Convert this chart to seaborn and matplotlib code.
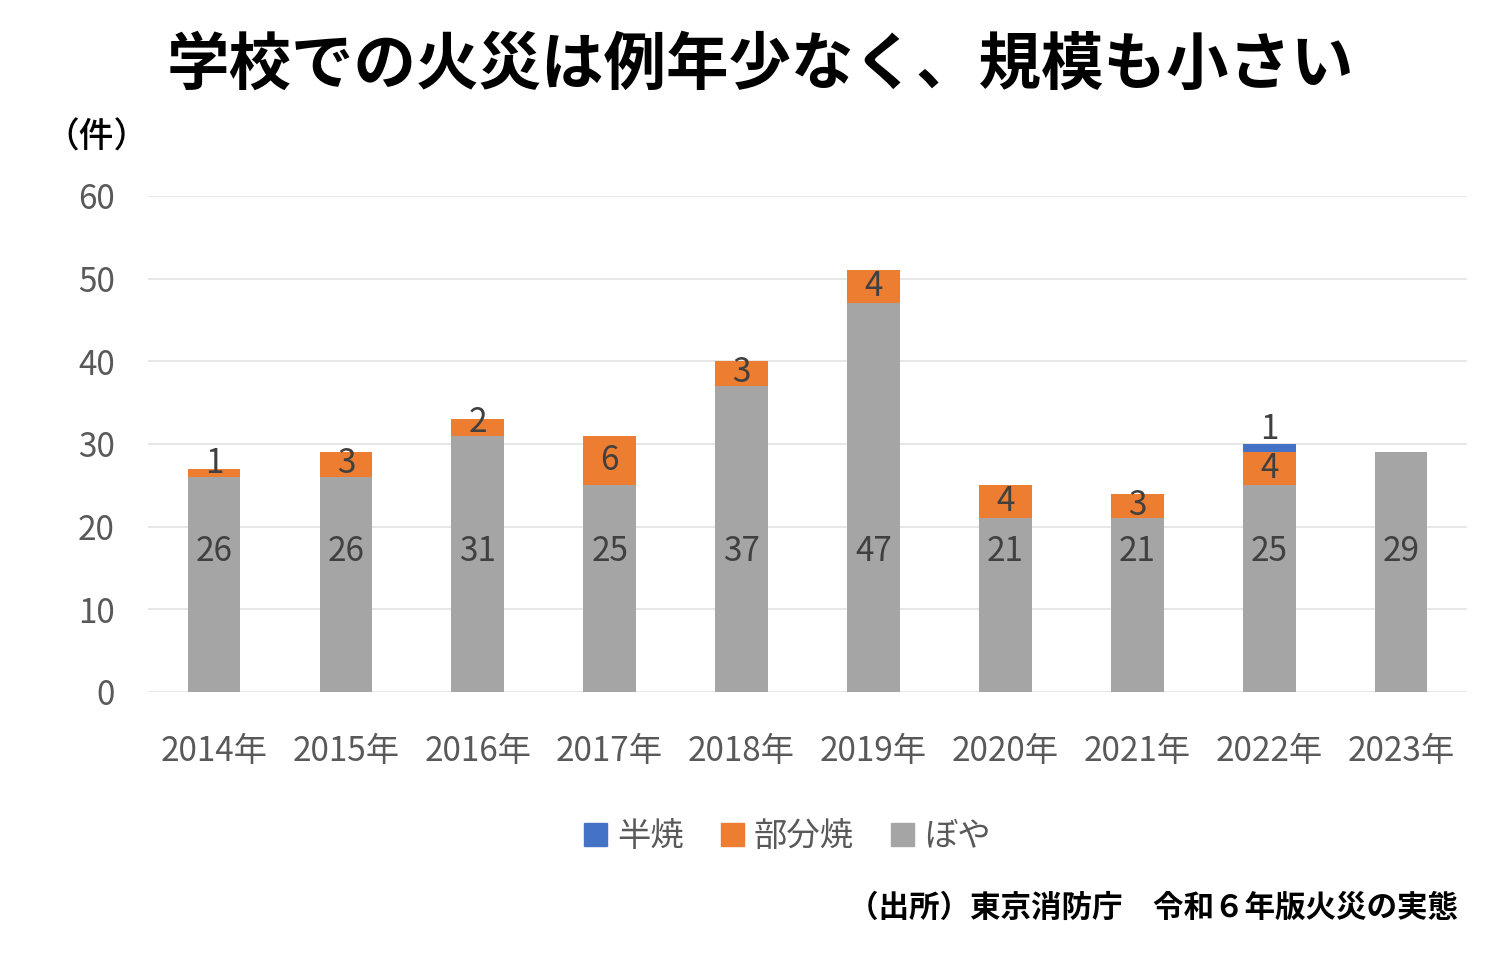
import numpy as np
import pandas as pd
import seaborn as sns
import matplotlib.pyplot as plt
from matplotlib.patches import Patch

years = ["2014年", "2015年", "2016年", "2017年", "2018年",
         "2019年", "2020年", "2021年", "2022年", "2023年"]
boya = [26, 26, 31, 25, 37, 47, 21, 21, 25, 29]      # ぼや
bubun = [1, 3, 2, 6, 3, 4, 4, 3, 4, 0]             # 部分焼
hanshou = [0, 0, 0, 0, 0, 0, 0, 0, 1, 0]           # 半焼

sns.set_style("white")
plt.rcParams['font.family'] = ['Noto Sans CJK JP', 'DejaVu Sans']

df = pd.DataFrame({"year": years, "boya": boya, "bubun": bubun, "hanshou": hanshou})
df["top2"] = df.boya + df.bubun
df["top3"] = df.top2 + df.hanshou

c_blue = "#4472C4"
c_orange = "#ED7D31"
c_gray = "#A5A5A5"

fig = plt.figure(figsize=(15, 9.56), dpi=100)
ax = fig.add_axes([0.0987, 0.2762, 0.8793, 0.5188])

# stacked bars: draw the tallest first, then overlay
for col, c in [("top3", c_blue), ("top2", c_orange), ("boya", c_gray)]:
    sns.barplot(x="year", y=col, data=df, color=c, width=0.4, ax=ax,
                saturation=1, linewidth=0, zorder=3)

ax.set_ylim(0, 60)
ax.set_xlim(-0.5, 9.5)
ax.set_yticks(range(0, 61, 10))
ax.yaxis.grid(True, color="#E3E3E3", linewidth=1.2, zorder=0)
ax.set_axisbelow(True)
for s in ax.spines.values():
    s.set_visible(False)
ax.tick_params(axis="both", length=0, labelsize=24, labelcolor="#595959")
ax.tick_params(axis="x", pad=30)
ax.tick_params(axis="y", pad=24)
ax.set_xlabel("")
ax.set_ylabel("")

lab_color = "#404040"
for i in range(len(years)):
    ax.text(i, 17, str(boya[i]), ha="center", va="center", fontsize=24, color=lab_color, zorder=5)
    if bubun[i] > 0:
        y = boya[i] + max(bubun[i] / 2, 1.6)
        ax.text(i, y, str(bubun[i]), ha="center", va="center", fontsize=24, color=lab_color, zorder=5)
    if hanshou[i] > 0:
        ax.text(i, df.top3[i] + 1.7, str(hanshou[i]), ha="center", va="center",
                fontsize=24, color=lab_color, zorder=5)

# legend
handles = [Patch(color=c_blue, label="半焼"), Patch(color=c_orange, label="部分焼"),
           Patch(color=c_gray, label="ぼや")]
leg = fig.legend(handles=handles, loc="center", bbox_to_anchor=(0.525, 0.125), ncol=3,
                 frameon=False, fontsize=24, handlelength=0.7, handleheight=0.7,
                 handletextpad=0.3, columnspacing=1.1)
for t in leg.get_texts():
    t.set_color("#595959")

fig.text(0.507, 0.932, "学校での火災は例年少なく、規模も小さい", ha="center", va="center",
         fontsize=45, fontweight="bold", color="black")
fig.text(0.064, 0.856, "（件）", ha="center", va="center", fontsize=25, fontweight="medium", color="black")
fig.text(0.972, 0.050, "（出所）東京消防庁　令和６年版火災の実態", ha="right", va="center",
         fontsize=22, fontweight="bold", color="black")

fig.savefig("out.png", dpi=100)
